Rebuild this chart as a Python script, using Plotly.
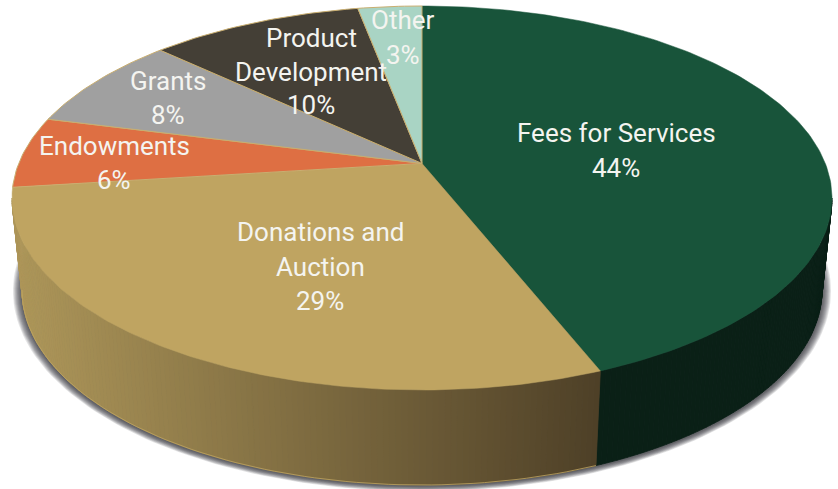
import numpy as np
import plotly.graph_objects as go

# Data
categories = ["Fees for Services", "Donations and\nAuction", "Endowments", "Grants",
              "Product\nDevelopment", "Other"]
values = [44, 29, 6, 8, 10, 3]

# Styles
top_colors = ["#18543a", "#bfa461", "#de6f43", "#a0a0a0", "#443f36", "#a9d4c4"]
wall_left = ["#0a2016", "#ad9659", "#de6f43", "#a0a0a0", "#443f36", "#a9d4c4"]
wall_right = ["#0a2016", "#4e4027", "#de6f43", "#a0a0a0", "#443f36", "#a9d4c4"]
label_x = [616, 320, 114, 168, 311, 403]
label_y = [[133, 168], [232, 267, 301], [146, 180], [81, 115], [38, 72, 105], [20, 55]]

W, H = 838, 489
CX = 422
TOP_Y, TOP_RX, TOP_RY = 198, 410, 192
BOT_Y, BOT_RX, BOT_RY = 290, 400, 195
D = 0.18  # perspective shift of the pie centre


def norm(theta):
    """Clockwise-from-top angle on the real disc -> unit ellipse coordinates in perspective."""
    s, c = np.sin(theta), np.cos(theta)
    k = 1 + D * c
    return s * np.sqrt(1 - D * D) / k, (c + D) / k


def top_xy(theta):
    x, y = norm(theta)
    return CX + TOP_RX * x, TOP_Y - TOP_RY * y


def bot_xy(theta):
    x, y = norm(theta)
    return CX + BOT_RX * x, BOT_Y - BOT_RY * y


def hex_rgb(h):
    return np.array([int(h[i:i + 2], 16) for i in (1, 3, 5)], dtype=float)


def poly(x, y, color, line=None, lw=0.0):
    return go.Scatter(x=list(x), y=list(y), mode="lines", fill="toself", fillcolor=color,
                      line=dict(color=line or color, width=lw), hoverinfo="skip", showlegend=False)


fig = go.Figure()

# Soft shadow
u = np.linspace(0, 2 * np.pi, 240)
for k in range(9, 0, -1):
    fig.add_trace(poly(CX + (BOT_RX + k) * np.cos(u), BOT_Y + 1 + (BOT_RY + k * 0.6) * np.sin(u),
                       "rgba(40,40,45,0.13)", "rgba(0,0,0,0)"))

# Cumulative slice limits
edges = np.cumsum([0] + values) / sum(values) * 2 * np.pi
vis_a = np.arccos(-D)            # where the near half starts
vis_b = 2 * np.pi - vis_a        # where it ends
x_min, x_max = CX - BOT_RX - 5, top_xy(edges[1])[0]

# Side wall
for i in range(len(values)):
    a, b = max(edges[i], vis_a), min(edges[i + 1], vis_b)
    if b <= a:
        continue
    n = max(2, int((b - a) / (vis_b - vis_a) * 220))
    t = np.linspace(a, b, n + 1)
    cl, cr = hex_rgb(wall_left[i]), hex_rgb(wall_right[i])
    for j in range(n):
        tt = np.linspace(t[j], t[j + 1], 3)
        xt, yt = top_xy(tt)
        xb, yb = bot_xy(tt)
        f = float(np.clip((xt.mean() - x_min) / (x_max - x_min), 0, 1))
        c = cl + (cr - cl) * f
        col = f"rgb({c[0]:.0f},{c[1]:.0f},{c[2]:.0f})"
        fig.add_trace(poly(np.r_[xt, xb[::-1], xt[0]], np.r_[yt, yb[::-1], yt[0]], col, col, 0.8))

# Thin light edge under the wall
tb = np.linspace(edges[1], vis_b, 80)
xb, yb = bot_xy(tb)
fig.add_trace(go.Scatter(x=xb, y=yb, mode="lines", line=dict(color="#bfa461", width=0.8),
                         hoverinfo="skip", showlegend=False))

# Top face
ax, ay = CX, TOP_Y - TOP_RY * D
for i in range(len(values)):
    n = max(8, int((edges[i + 1] - edges[i]) * 60))
    t = np.linspace(edges[i], edges[i + 1], n + 1)
    xt, yt = top_xy(t)
    fig.add_trace(poly(np.r_[ax, xt, ax], np.r_[ay, yt, ay], top_colors[i],
                       "#c9ae70" if i not in (0, 1) else top_colors[i], 1 if i not in (0, 1) else 0.5))

# Labels
annotations = []
for i, cat in enumerate(categories):
    lines = cat.split("\n") + [f"{values[i]}%"]
    for text, y in zip(lines, label_y[i]):
        annotations.append(dict(x=label_x[i], y=y, text=text, showarrow=False, xanchor="center",
                                yanchor="middle", font=dict(family="Roboto", size=26, color="#f4f4f0")))

fig.update_layout(
    width=W, height=H, margin=dict(l=0, r=0, t=0, b=0), paper_bgcolor="white", plot_bgcolor="white",
    xaxis=dict(range=[0, W], visible=False, fixedrange=True),
    yaxis=dict(range=[H, 0], visible=False, fixedrange=True),
    annotations=annotations, showlegend=False,
)
fig.write_html("out.html", config=dict(displayModeBar=False),
               post_script="document.body.style.margin='0';document.body.style.overflow='hidden';")
